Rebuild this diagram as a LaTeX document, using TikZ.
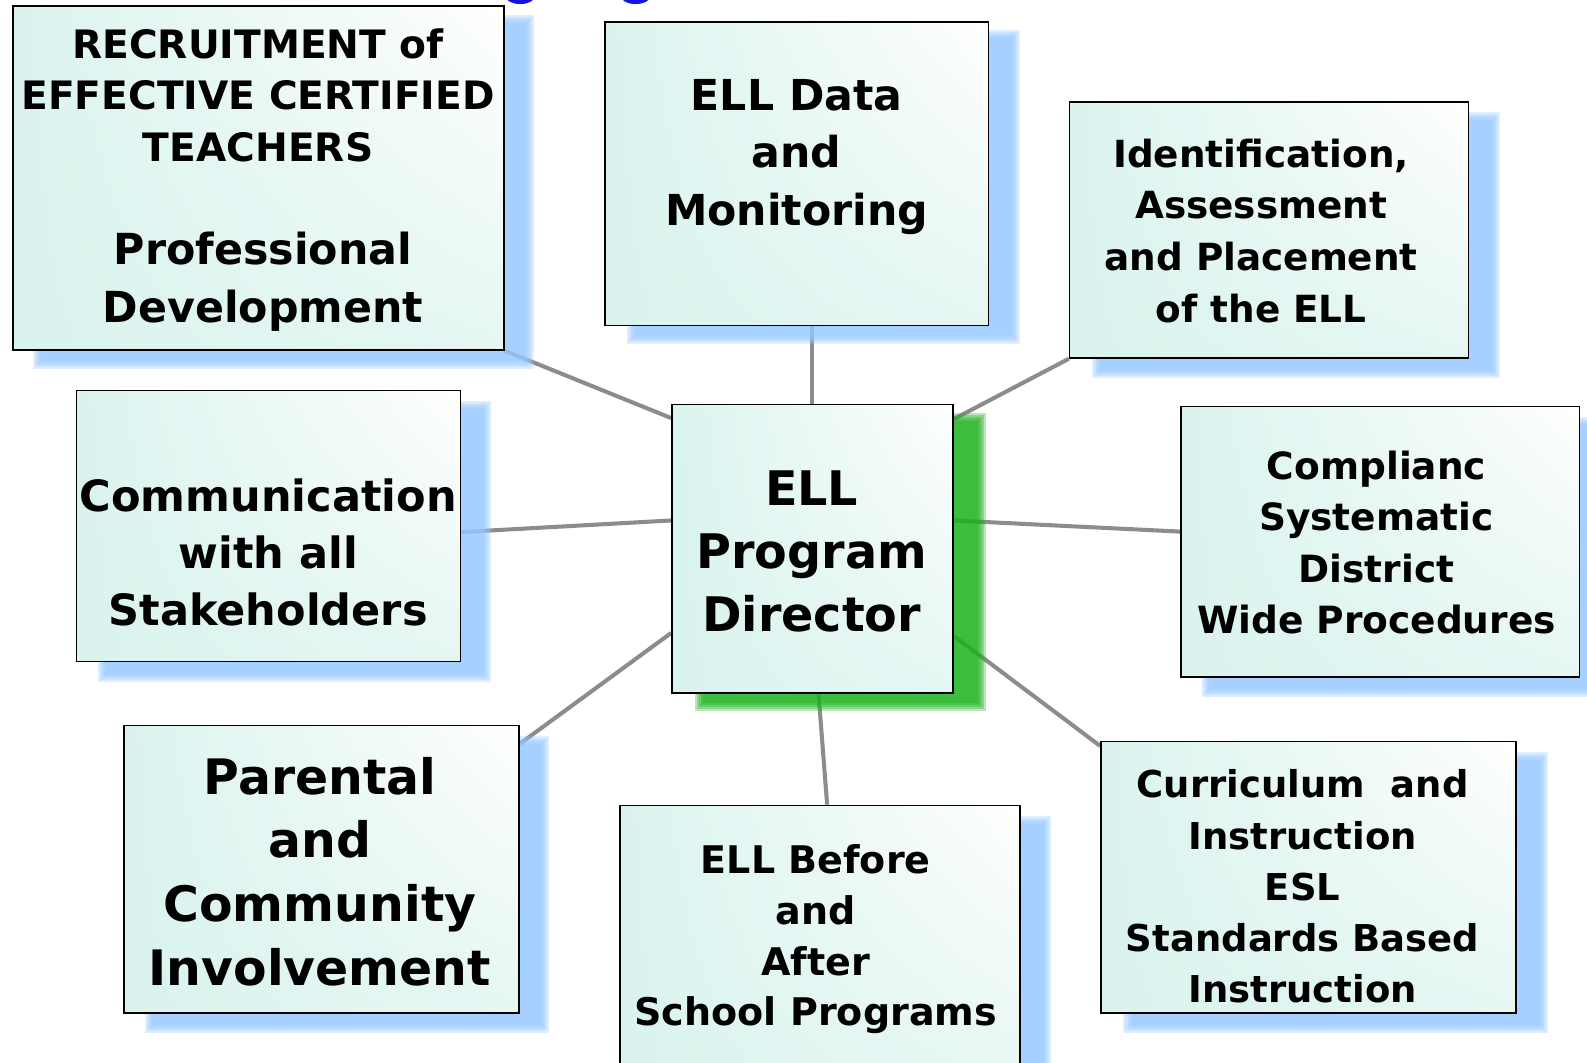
\documentclass[tikz,border=0pt]{standalone}
\usepackage{fontspec}
\setmainfont{DejaVu Sans}
\usetikzlibrary{calc,backgrounds,shadings}
\definecolor{mint}{RGB}{218,243,238}
\definecolor{sblue}{RGB}{150,200,255}
\definecolor{sgreen}{RGB}{25,177,25}
\definecolor{lgray}{RGB}{140,140,140}
\definecolor{tblue}{RGB}{20,20,225}
\newcommand\fs[2]{\bfseries\fontsize{#1}{#2}\selectfont}
\newcommand\shd[4]{%
  \foreach \k in {0,...,4}{%
    \fill[#2, opacity=0.3] ($(#1.north west)+({#3+\k*2-4},{#4+\k*2-4})$) rectangle ($(#1.south east)+({#3-\k*2+4},{#4-\k*2+4})$);
  }}
\tikzset{
  box/.style={draw=black, line width=1.1pt, upper left=mint, upper right=white,
    lower left=mint, lower right=mint!70!white, inner sep=0pt, anchor=north west},
  conn/.style={draw=lgray, line width=3pt},
  txt/.style={align=center, inner sep=0pt, text=black},
}
\begin{document}
\begin{tikzpicture}[x=0.75pt,y=-0.75pt]
\clip (0,0) rectangle (1568,1050);
\useasboundingbox (0,0) rectangle (1568,1050);
% boxes
\node[box, minimum width=485*0.75pt, minimum height=340*0.75pt] (rec) at (12,5) {};
\node[box, minimum width=379*0.75pt, minimum height=300*0.75pt] (dat) at (597,21) {};
\node[box, minimum width=394*0.75pt, minimum height=253*0.75pt] (idn) at (1056,100) {};
\node[box, minimum width=379*0.75pt, minimum height=268*0.75pt] (com) at (75,385) {};
\node[box, minimum width=278*0.75pt, minimum height=285*0.75pt] (ctr) at (663,399) {};
\node[box, minimum width=394*0.75pt, minimum height=267*0.75pt] (cmp) at (1166,401) {};
\node[box, minimum width=390*0.75pt, minimum height=284*0.75pt] (par) at (122,716) {};
\node[box, minimum width=395*0.75pt, minimum height=290*0.75pt] (bef) at (612,795) {};
\node[box, minimum width=410*0.75pt, minimum height=268*0.75pt] (cur) at (1087,732) {};
% texts
\node[txt, font=\fs{29}{38.25}] (recA) at (255,94) {RECRUITMENT of\\EFFECTIVE CERTIFIED\\TEACHERS};
\node[txt, font=\fs{31.7}{42.75}] (recB) at (260,278) {Professional\\Development};
\node[txt, font=\fs{31.6}{42.75}] (datT) at (787,155) {ELL Data\\and\\Monitoring};
\node[txt, font=\fs{27.7}{38.25}] (idnT) at (1246,228) {Identification,\\Assessment\\and Placement\\of the ELL};
\node[txt, font=\fs{31.9}{42.4}] (comT) at (265,546) {Communication\\with all\\Stakeholders};
\node[txt, font=\fs{35.3}{46.9}] (ctrT) at (802,545) {ELL\\Program\\Director};
\node[txt, font=\fs{27.8}{38}] (cmpT) at (1360,536) {Complianc\\Systematic\\District\\Wide Procedures};
\node[txt, font=\fs{36.2}{47.25}] (parT) at (316,861) {Parental\\and\\Community\\Involvement};
\node[txt, font=\fs{28.2}{37.7}] (befT) at (806,928) {ELL Before\\and\\After\\School Programs};
\node[txt, font=\fs{27.4}{38}] (curT) at (1287,876) {Curriculum\ \ and\\Instruction\\ESL\\Standards Based\\Instruction};
% title fragments
\fill[tblue] (514,-3) ellipse [x radius=14, y radius=7];
\fill[tblue] (628,-3) ellipse [x radius=14, y radius=7];
\begin{scope}[on background layer]
  \fill[white] (0,0) rectangle (1568,1050);
  \draw[conn] (rec.south east) -- ($(ctr.north west)+(0,14)$);
  \draw[conn] (ctr.north) -- (ctr.north |- dat.south);
  \draw[conn] (idn.south west) -- ($(ctr.north east)+(0,15)$);
  \draw[conn] ($(com.east)+(0,6)$) -- ($(ctr.west)+(0,-28)$);
  \draw[conn] ($(ctr.east)+(0,-28)$) -- ($(cmp.west)+(0,-10)$);
  \draw[conn] ($(par.north east)+(0,19)$) -- ($(ctr.south west)+(0,-60)$);
  \draw[conn] ($(ctr.south)+(6,0)$) -- ($(bef.north)+(7,0)$);
  \draw[conn] ($(ctr.south east)+(0,-57)$) -- ($(cur.north west)+(0,5)$);
  \shd{rec}{sblue}{25}{14}
  \shd{dat}{sblue}{26}{13}
  \shd{idn}{sblue}{27}{15}
  \shd{com}{sblue}{26}{15}
  \shd{cmp}{sblue}{26}{15}
  \shd{par}{sblue}{25}{15}
  \shd{bef}{sblue}{26}{15}
  \shd{cur}{sblue}{27}{15}
  \shd{ctr}{sgreen}{28}{13}
\end{scope}
\end{tikzpicture}
\end{document}
